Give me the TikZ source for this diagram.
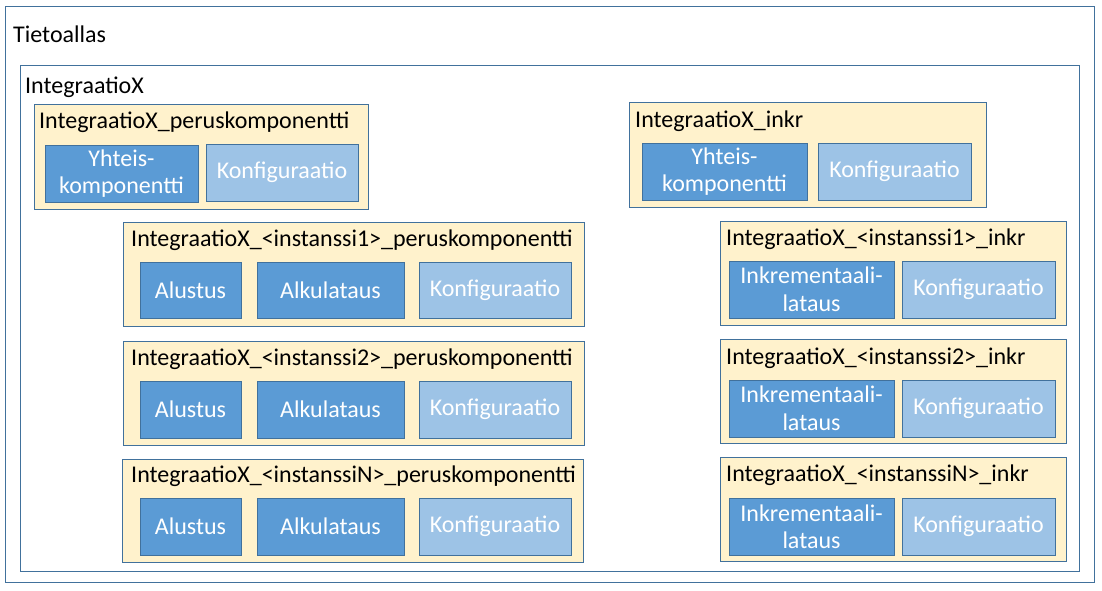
\documentclass[tikz,border=0pt]{standalone}
\usepackage{fontspec}
\setmainfont{Carlito}
\definecolor{bordc}{HTML}{41719C}
\definecolor{creamc}{HTML}{FFF2CC}
\definecolor{darkc}{HTML}{5B9BD5}
\definecolor{lightc}{HTML}{9DC3E6}
\tikzset{
  frame/.style={draw=bordc, line width=1pt, fill=white},
  comp/.style={draw=bordc, line width=1pt, fill=creamc},
  darkbox/.style={draw=bordc, line width=1pt, fill=darkc, text=white, align=center},
  lightbox/.style={draw=bordc, line width=1pt, fill=lightc, text=white, align=center},
  lbl/.style={anchor=west, inner sep=0pt, text=black},
}
\newcommand{\bx}[7]{\node[#2, anchor=north west, inner sep=0pt, outer sep=0pt,
  minimum width={#5-#3}, minimum height={#6-#4}] (#1) at (#3,#4) {#7};}
\begin{document}
\begin{tikzpicture}[x=1pt,y=-1pt,font=\fontsize{24}{27.5}\selectfont]
\useasboundingbox (0,0) rectangle (1102,591);
% outer frames
\bx{tieto}{frame}{5}{7}{1094}{582}{}
\node[lbl] (tieto-l) at (13,34) {Tietoallas};
\bx{integ}{frame}{20}{66}{1079}{571}{}
\node[lbl] (integ-l) at (25,87) {IntegraatioX};
% IntegraatioX_peruskomponentti
\bx{pk}{comp}{34}{105}{368}{209}{}
\node[lbl] (pk-l) at (39,122) {IntegraatioX\_peruskomponentti};
\bx{pky}{darkbox}{45}{145}{198}{202}{Yhteis-\\komponentti}
\bx{pkk}{lightbox}{206}{144}{358}{201}{Konfiguraatio}
% IntegraatioX_inkr
\bx{ik}{comp}{629}{103}{986}{207}{}
\node[lbl] (ik-l) at (635,121) {IntegraatioX\_inkr};
\bx{iky}{darkbox}{642}{143}{807}{200}{Yhteis-\\komponentti}
\bx{ikk}{lightbox}{818}{143}{971}{200}{Konfiguraatio}
% peruskomponentti instances
\bx{p1}{comp}{123}{222}{584}{326}{}
\node[lbl] (p1-l) at (131,240) {IntegraatioX\_<instanssi1>\_peruskomponentti};
\bx{p1a}{darkbox}{140}{262}{241}{318}{Alustus}
\bx{p1b}{darkbox}{257}{262}{404}{318}{Alkulataus}
\bx{p1c}{lightbox}{419}{262}{571}{318}{Konfiguraatio}
\bx{p2}{comp}{123}{341}{584}{445}{}
\node[lbl] (p2-l) at (131,359) {IntegraatioX\_<instanssi2>\_peruskomponentti};
\bx{p2a}{darkbox}{140}{381}{241}{438}{Alustus}
\bx{p2b}{darkbox}{257}{381}{404}{438}{Alkulataus}
\bx{p2c}{lightbox}{419}{381}{571}{438}{Konfiguraatio}
\bx{p3}{comp}{122}{459}{583}{562}{}
\node[lbl] (p3-l) at (131,476) {IntegraatioX\_<instanssiN>\_peruskomponentti};
\bx{p3a}{darkbox}{140}{498}{241}{555}{Alustus}
\bx{p3b}{darkbox}{257}{498}{404}{555}{Alkulataus}
\bx{p3c}{lightbox}{419}{498}{571}{555}{Konfiguraatio}
% inkr instances
\bx{i1}{comp}{720}{221}{1066}{325}{}
\node[lbl] (i1-l) at (726,239) {IntegraatioX\_<instanssi1>\_inkr};
\bx{i1a}{darkbox}{729}{261}{894}{318}{Inkrementaali-\\lataus}
\bx{i1b}{lightbox}{902}{261}{1055}{318}{Konfiguraatio}
\bx{i2}{comp}{720}{339}{1066}{443}{}
\node[lbl] (i2-l) at (726,358) {IntegraatioX\_<instanssi2>\_inkr};
\bx{i2a}{darkbox}{729}{380}{894}{437}{Inkrementaali-\\lataus}
\bx{i2b}{lightbox}{902}{380}{1055}{437}{Konfiguraatio}
\bx{i3}{comp}{720}{457}{1066}{561}{}
\node[lbl] (i3-l) at (726,475) {IntegraatioX\_<instanssiN>\_inkr};
\bx{i3a}{darkbox}{729}{498}{894}{555}{Inkrementaali-\\lataus}
\bx{i3b}{lightbox}{902}{498}{1055}{555}{Konfiguraatio}
\end{tikzpicture}
\end{document}
